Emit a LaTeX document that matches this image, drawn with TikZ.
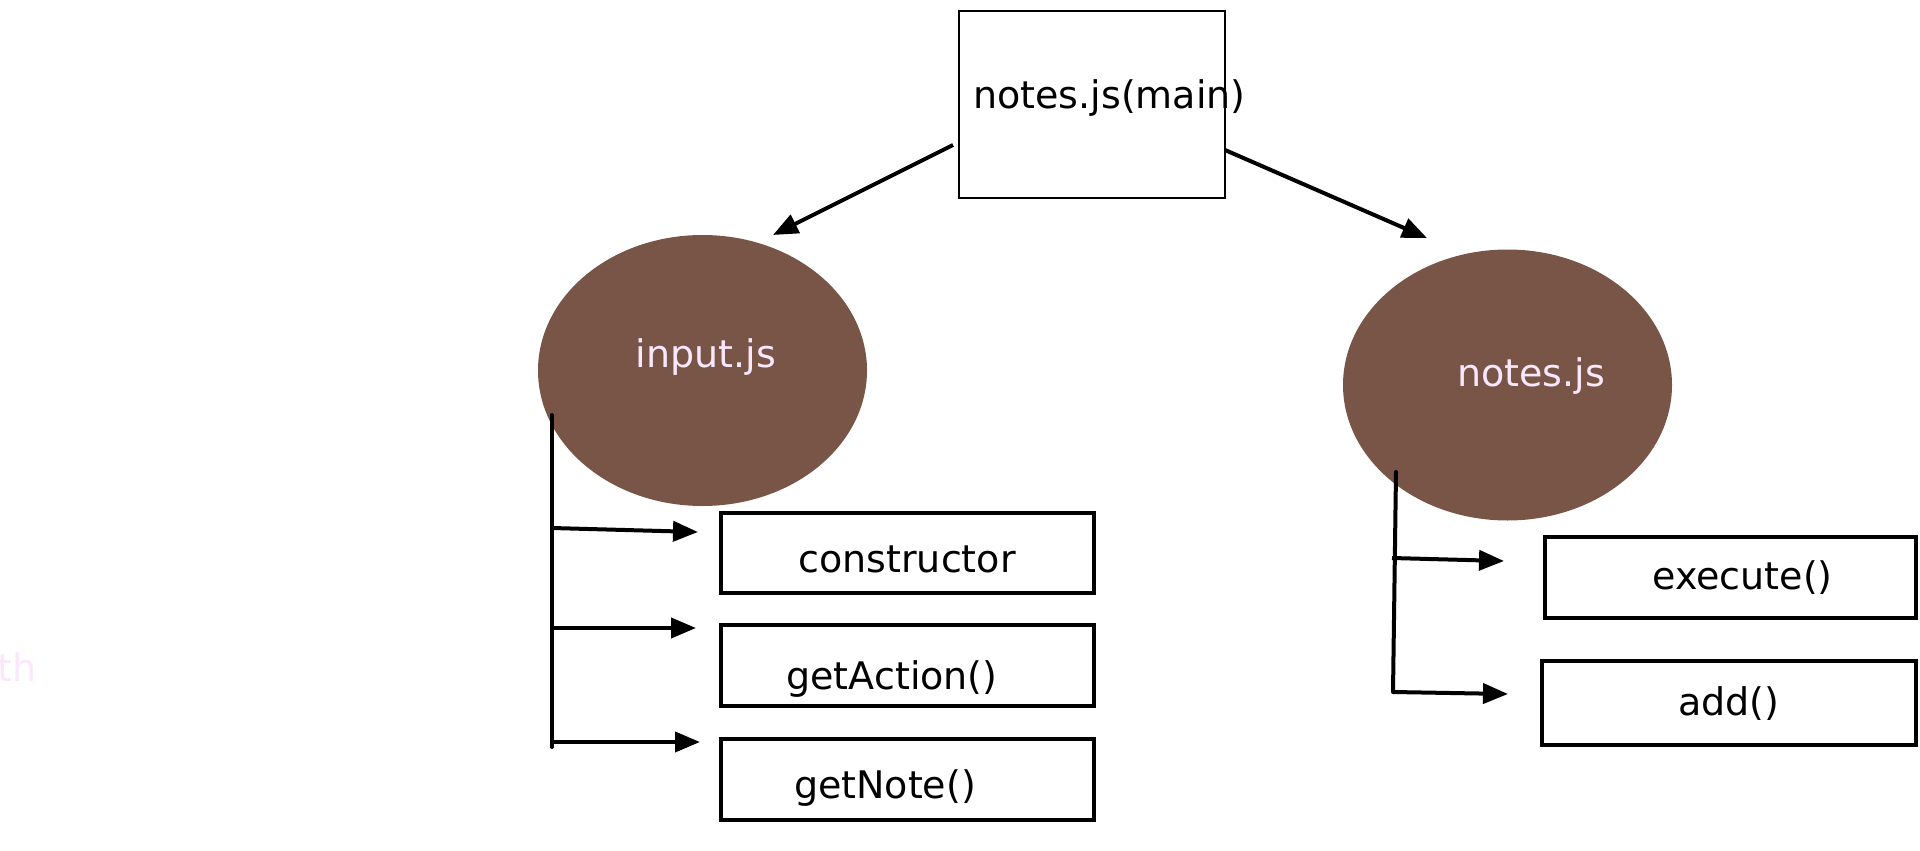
\documentclass[tikz,border=0pt]{standalone}
\usepackage{fontspec}
\setmainfont{DejaVu Sans}
\usetikzlibrary{arrows.meta,shapes.geometric}
\definecolor{nodebrown}{HTML}{795548}
\definecolor{palepink}{HTML}{FAE8FA}
\begin{document}
\begin{tikzpicture}[x=1pt,y=-1pt,
  every node/.style={inner sep=0pt,outer sep=0pt},
  lbl/.style={font=\fontsize{38}{46}\selectfont,anchor=base,text=black},
  wlbl/.style={lbl,text=palepink},
  mainbox/.style={draw=black,line width=2pt,rectangle,minimum width=266pt,minimum height=187pt},
  fnbox/.style={draw=black,line width=4pt,rectangle,minimum height=81pt},
  blob/.style={ellipse,fill=nodebrown,draw=none,minimum width=329pt,minimum height=271pt},
  conn/.style={line width=4pt,line cap=round},
  arr/.style={line width=4pt,-{Triangle[length=25pt,width=20pt]}}
]
\useasboundingbox (0,0) rectangle (1920,851);

% shapes
\node[mainbox] (main) at (1092,104.5) {};
\node[blob] (input) at (702.5,370.5) {};
\node[blob] (notes) at (1507.5,385) {};
\node[fnbox,minimum width=373pt,minimum height=80pt] (ctor) at (907.5,553) {};
\node[fnbox,minimum width=373pt] (getaction) at (907.5,665.5) {};
\node[fnbox,minimum width=373pt] (getnote) at (907.5,779.5) {};
\node[fnbox,minimum width=371pt] (execute) at (1730.5,577.5) {};
\node[fnbox,minimum width=374pt,minimum height=84pt] (add) at (1729,703) {};

% labels
\node[lbl] (tmain) at (1109.5,108) {notes.js(main)};
\node[wlbl] (tinput) at (706,367) {input.js};
\node[wlbl] (tnotes) at (1531,386) {notes.js};
\node[lbl] (tctor) at (907,572) {constructor};
\node[lbl] (tgetaction) at (892,689) {getAction()};
\node[lbl] (tgetnote) at (885,798) {getNote()};
\node[lbl] (texecute) at (1742.5,589) {execute()};
\node[lbl] (tadd) at (1729,715) {add()};
\node[wlbl,anchor=base west] (tth) at (-2,681) {th};

% connector points
\coordinate (mL) at (953,145);
\coordinate (tipL) at (773,235);
\coordinate (mR) at (1225,150);
\coordinate (tipR) at (1427,238);

\coordinate (lTop) at (551.5,415);
\coordinate (lBot) at (551.5,747);
\coordinate (lA) at (552,528);
\coordinate (lAt) at (698,532);
\coordinate (lB) at (552,628);
\coordinate (lBt) at (696,628);
\coordinate (lC) at (552,742);
\coordinate (lCt) at (700,742);

\coordinate (rTop) at (1396,472);
\coordinate (rBot) at (1393,692);
\coordinate (rA) at (1392,558);
\coordinate (rAt) at (1504,561);
\coordinate (rB) at (1393,692);
\coordinate (rBt) at (1508,694);

% connectors
\draw[arr] (mL) -- (tipL);
\draw[arr] (mR) -- (tipR);

\draw[conn] (lTop) -- (lBot);
\draw[arr] (lA) -- (lAt);
\draw[arr] (lB) -- (lBt);
\draw[arr] (lC) -- (lCt);

\draw[conn] (rTop) -- (rBot);
\draw[arr] (rA) -- (rAt);
\draw[arr] (rB) -- (rBt);
\end{tikzpicture}
\end{document}
